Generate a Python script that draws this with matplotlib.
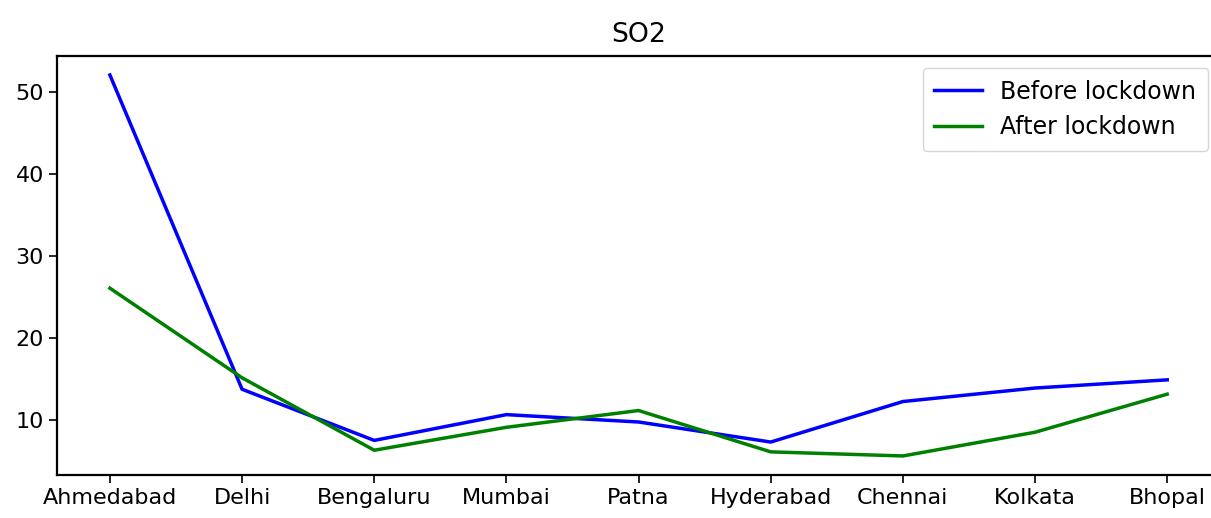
import matplotlib
matplotlib.use("Agg")
import matplotlib.pyplot as plt

matplotlib.rcParams.update({"font.size": 16, "axes.linewidth": 1.6})

cities = ["Ahmedabad", "Delhi", "Bengaluru", "Mumbai", "Patna",
          "Hyderabad", "Chennai", "Kolkata", "Bhopal"]
before = [52.1, 13.7, 7.45, 10.6, 9.7, 7.25, 12.2, 13.85, 14.85]
after = [26.05, 15.1, 6.25, 9.05, 11.1, 6.05, 5.55, 8.45, 13.1]

fig = plt.figure(figsize=(12.11, 5.18), dpi=100)
ax = fig.add_axes([0.0471, 0.083, 0.9604, 0.809])

ax.plot(cities, before, color="blue", lw=2.5, label="Before lockdown")
ax.plot(cities, after, color="green", lw=2.5, label="After lockdown")

ax.set_title("SO2", pad=10)
ax.set_yticks([10, 20, 30, 40, 50])
ax.tick_params(length=6, width=1.2)
ax.legend(loc="upper right", fontsize=17, borderpad=0.5)

fig.savefig("out.png", dpi=100)
